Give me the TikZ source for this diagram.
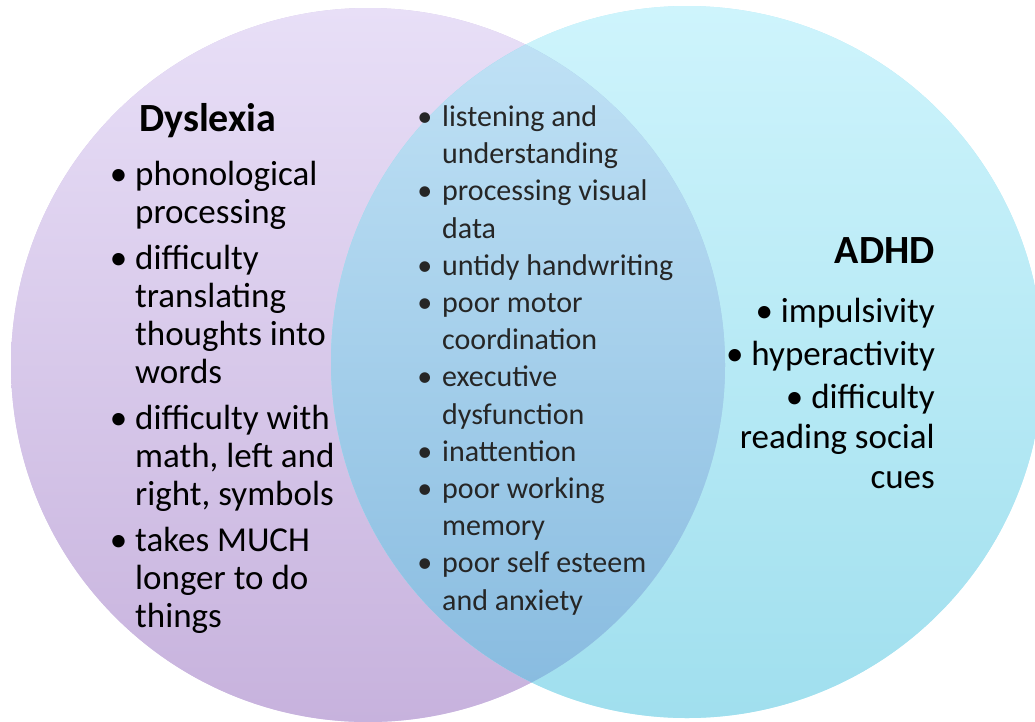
\documentclass[tikz,border=0pt]{standalone}
\usepackage{fontspec}
\setmainfont{Carlito}

\definecolor{dysTop}{HTML}{E8DFF7}
\definecolor{dysBot}{HTML}{C7B2DD}
\definecolor{adhdTop}{HTML}{CEF4FC}
\definecolor{adhdBot}{HTML}{A0DFEE}
\definecolor{bothTop}{HTML}{C2E3F6}
\definecolor{bothBot}{HTML}{86BADF}

% bullet hung into the left margin of a line
\newcommand\blt[1]{\llap{\textbullet\hspace{#1}}}

\begin{document}
\begin{tikzpicture}[x=1pt,y=-1pt,
    heading/.style={font=\fontsize{40}{44}\selectfont\bfseries,inner sep=0},
    sidelist/.style={font=\fontsize{35}{38}\selectfont,inner sep=0},
    midlist/.style={font=\fontsize{30}{37.2}\selectfont,text=black!85,inner sep=0,align=left,anchor=base west}]
    \useasboundingbox (0,0) rectangle (1035,721);

    % the two sets (solid base under each shading keeps the rims clean)
    \fill[dysTop!50!dysBot] (368,365) circle (357);
    \shade[top color=dysTop,bottom color=dysBot] (368,365) circle (357);
    \fill[adhdTop!50!adhdBot] (687,362) circle (356);
    \shade[top color=adhdTop,bottom color=adhdBot] (687,362) circle (356);
    % their overlap
    \begin{scope}
        \clip (368,365) circle (357);
        \fill[bothTop!50!bothBot] (687,362) circle (356);
        \shade[top color=bothTop,bottom color=bothBot] (687,362) circle (356);
    \end{scope}

    % Dyslexia (multi-line nodes sit on their last baseline)
    \node[heading,anchor=base west] (dys) at (139,131) {Dyslexia};
    \node[sidelist,align=left,anchor=base west] (dyslist) at (135,627) {%
        \blt{8pt}phonological\\ processing\\[8pt]
        \blt{8pt}difficulty\\ translating\\ thoughts into\\ words\\[8pt]
        \blt{8pt}difficulty with\\ math, left and\\ right, symbols\\[8pt]
        \blt{8pt}takes MUCH\\ longer to do\\ things};

    % shared
    \node[midlist] (both) at (442,610) {%
        \blt{10pt}listening and\\ understanding\\
        \blt{10pt}processing visual\\ data\\
        \blt{10pt}untidy handwriting\\
        \blt{10pt}poor motor\\ coordination\\
        \blt{10pt}executive\\ dysfunction\\
        \blt{10pt}inattention\\
        \blt{10pt}poor working\\ memory\\
        \blt{10pt}poor self esteem\\ and anxiety};

    % ADHD
    \node[heading,anchor=base east] (adhd) at (935,263) {ADHD};
    \node[sidelist,align=right,anchor=base east,font=\fontsize{35}{40}\selectfont] (adhdlist) at (935,488) {%
        \textbullet\ impulsivity\\[3pt]
        \textbullet\ hyperactivity\\[3pt]
        \textbullet\ difficulty\\ reading social\\ cues};
\end{tikzpicture}
\end{document}
